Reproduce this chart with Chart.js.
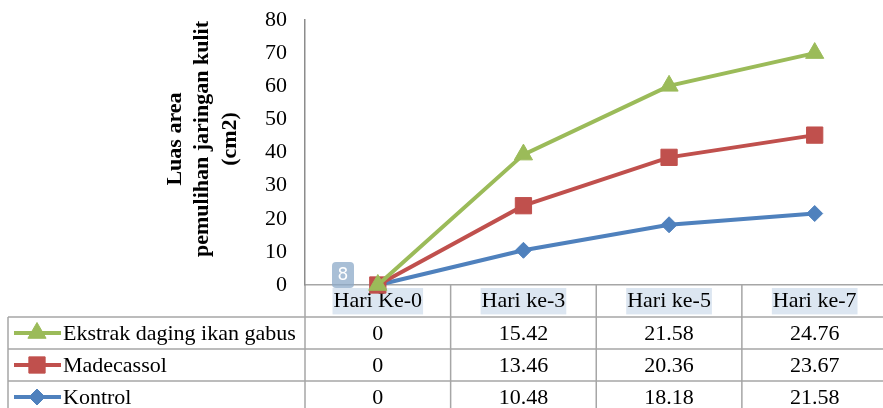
<!DOCTYPE html>
<html><head><meta charset="utf-8">
<script src="https://cdn.jsdelivr.net/npm/chart.js@4.4.1/dist/chart.umd.min.js"></script>
<style>html,body{margin:0;padding:0;overflow:hidden;background:#fff;width:883px;height:408px}canvas{display:block}</style>
</head><body>
<canvas id="c" width="900" height="408" style="width:900px;height:408px"></canvas>
<script>
const categories = ['Hari Ke-0', 'Hari ke-3', 'Hari ke-5', 'Hari ke-7'];
const ekstrak = [0, 15.42, 21.58, 24.76];
const madecassol = [0, 13.46, 20.36, 23.67];
const kontrol = [0, 10.48, 18.18, 21.58];
const seriesNames = ['Kontrol', 'Madecassol', 'Ekstrak daging ikan gabus'];
const yTicks = [0, 10, 20, 30, 40, 50, 60, 70, 80];
const yTitle = ['Luas area', 'pemulihan jaringan kulit', '(cm2)'];

const SERIF = '"Liberation Serif", "Times New Roman", serif';
const GREEN = '#9BBB59', RED = '#C0504D', BLUE = '#4F81BD';
const GRID = '#A6A6A6';

Chart.defaults.font.family = SERIF;
Chart.defaults.color = '#000';

const seriesData = [kontrol, madecassol, ekstrak];
const seriesColors = [BLUE, RED, GREEN];
const seriesStyles = ['rectRot', 'rect', 'triangle'];
const seriesRadius = [8, 11.5, 10.5];

const drawOrder = {
  id: 'drawOrder',
  beforeDatasetsDraw(chart) {
    const metas = chart.getSortedVisibleDatasetMetas();
    for (let i = 0; i < metas.length; i++) {
      if (chart._drawDataset) chart._drawDataset(metas[i]);
      else metas[i].controller.draw();
    }
    return false;
  }
};

const tablePlugin = {
  id: 'tablePlugin',
  afterDraw(chart) {
    const ctx = chart.ctx, xs = chart.scales.x, area = chart.chartArea;
    const colW = xs.getPixelForValue(1) - xs.getPixelForValue(0);
    const rowH = 32, tableLeft = 8;
    const top = area.bottom, bottom = chart.height;
    ctx.save();
    ctx.strokeStyle = GRID; ctx.lineWidth = 1.5;
    ctx.beginPath();
    for (let k = 1; k <= 3; k++) {
      const y = top + rowH * k;
      ctx.moveTo(tableLeft, y); ctx.lineTo(area.right, y);
    }
    ctx.moveTo(tableLeft, top + rowH); ctx.lineTo(tableLeft, bottom);
    ctx.moveTo(area.left, top); ctx.lineTo(area.left, bottom);
    for (let k = 1; k <= categories.length; k++) {
      const x = area.left + colW * k;
      ctx.moveTo(x, top); ctx.lineTo(x, bottom);
    }
    ctx.stroke();

    for (let r = 0; r < 3; r++) {
      const si = 2 - r;
      const cy = top + rowH * (r + 1) + rowH / 2;
      const col = seriesColors[si];
      ctx.strokeStyle = col; ctx.fillStyle = col; ctx.lineWidth = 4;
      ctx.beginPath(); ctx.moveTo(14, cy); ctx.lineTo(61, cy); ctx.stroke();
      ctx.lineWidth = 1;
      Chart.helpers.drawPoint(ctx, {pointStyle: seriesStyles[si], radius: seriesRadius[si], rotation: 0, borderWidth: 1}, 37, cy);
      ctx.fillStyle = '#000';
      ctx.font = '22px ' + SERIF;
      ctx.textBaseline = 'middle';
      ctx.textAlign = 'left';
      ctx.fillText(seriesNames[si], 63, cy + 1);
      ctx.textAlign = 'center';
      seriesData[si].forEach((v, i) => {
        ctx.fillText(v === 0 ? '0' : v.toFixed(2), xs.getPixelForValue(i), cy + 1);
      });
    }

    ctx.fillStyle = '#000';
    ctx.font = 'bold 22px ' + SERIF;
    ctx.textAlign = 'center'; ctx.textBaseline = 'middle';
    yTitle.forEach((t, i) => {
      ctx.save();
      ctx.translate(175 + i * 27.5, 139);
      ctx.rotate(-Math.PI / 2);
      ctx.fillText(t, 0, 0);
      ctx.restore();
    });

    ctx.fillStyle = 'rgba(140,170,200,0.75)';
    ctx.beginPath();
    if (ctx.roundRect) ctx.roundRect(332, 262, 22, 26, 4); else ctx.rect(332, 262, 22, 26);
    ctx.fill();
    ctx.fillStyle = '#fff';
    ctx.font = '17px "DejaVu Sans", sans-serif';
    ctx.fillText('8', 343, 276);
    ctx.restore();
  }
};

new Chart(document.getElementById('c'), {
  type: 'line',
  data: {
    labels: categories,
    datasets: seriesData.map((d, i) => ({
      label: seriesNames[i],
      data: d,
      borderColor: seriesColors[i],
      backgroundColor: seriesColors[i],
      pointBackgroundColor: seriesColors[i],
      pointBorderColor: seriesColors[i],
      pointStyle: seriesStyles[i],
      pointRadius: seriesRadius[i],
      pointBorderWidth: 1,
      borderWidth: 4,
      tension: 0,
      fill: false,
      clip: false
    }))
  },
  options: {
    responsive: false,
    animation: false,
    devicePixelRatio: 1,
    layout: {padding: {top: 20, left: 0, right: 4, bottom: 0}},
    plugins: {legend: {display: false}, tooltip: {enabled: false}, title: {display: false}},
    scales: {
      x: {
        type: 'category',
        offset: true,
        grid: {display: false, drawTicks: false},
        border: {display: true, color: GRID, width: 1.5},
        ticks: {
          font: {size: 22, family: SERIF},
          color: '#000',
          padding: 3,
          maxRotation: 0,
          showLabelBackdrop: true,
          backdropColor: '#DCE6F1',
          backdropPadding: {left: 1, right: 1, top: 0, bottom: 0}
        },
        afterFit(s) { s.height = 123; s.paddingLeft = 0; s.paddingRight = 0; }
      },
      y: {
        stacked: true,
        min: 0,
        max: 80,
        grid: {display: false, drawTicks: false},
        border: {display: true, color: '#8C8C8C', width: 1.5},
        ticks: {font: {size: 22, family: SERIF}, color: '#000', padding: 18, stepSize: 10},
        afterBuildTicks(s) { s.ticks = yTicks.map(v => ({value: v})); },
        afterFit(s) { s.width = 305; s.paddingTop = 0; s.paddingBottom = 0; }
      }
    }
  },
  plugins: [drawOrder, tablePlugin]
});
</script>
</body></html>
